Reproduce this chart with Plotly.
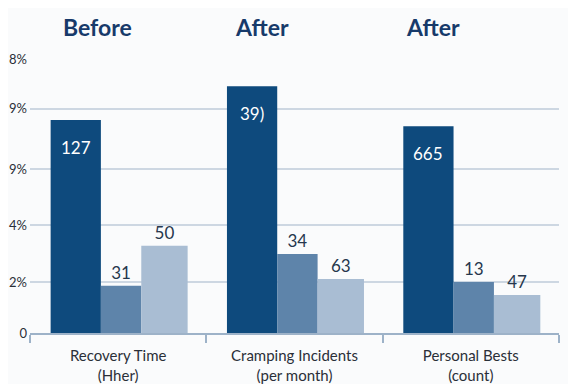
import plotly.graph_objects as go

# ---- data ----
categories = ["Recovery Time<br>(Hher)", "Cramping Incidents<br>(per month)", "Personal Bests<br>(count)"]
group_titles = ["Before", "After", "After"]
series1_heights = [7.77, 9.01, 7.55]
series2_heights = [1.72, 2.88, 1.86]
series3_heights = [3.18, 1.97, 1.39]
series1_labels = ["127", "39)", "665"]
series2_labels = ["31", "34", "13"]
series3_labels = ["50", "63", "47"]
y_tick_vals = [0, 1.86, 3.94, 5.98, 8.18, 10]
y_tick_text = ["0", "2%", "4%", "9%", "9%", "8%"]

# ---- style ----
FONT = "Lato, 'Open Sans', sans-serif"
C1, C2, C3 = "#0e4a7d", "#5e84aa", "#a9bdd3"
bar_specs = [(-0.383, 0.285), (-0.098, 0.229), (0.131, 0.263)]
title_x = [-0.12, 0.816, 1.786]

x = list(range(len(categories)))
fig = go.Figure()

fig.add_trace(go.Bar(x=x, y=series1_heights, marker=dict(color=C1, line=dict(width=0)),
                     offset=bar_specs[0][0], width=bar_specs[0][1], hoverinfo="skip"))
fig.add_trace(go.Bar(x=x, y=series2_heights, marker=dict(color=C2, line=dict(width=0)),
                     offset=bar_specs[1][0], width=bar_specs[1][1],
                     text=series2_labels, textposition="outside",
                     textfont=dict(family=FONT, size=17, color="#26374d"),
                     cliponaxis=False, hoverinfo="skip"))
fig.add_trace(go.Bar(x=x, y=series3_heights, marker=dict(color=C3, line=dict(width=0)),
                     offset=bar_specs[2][0], width=bar_specs[2][1],
                     text=series3_labels, textposition="outside",
                     textfont=dict(family=FONT, size=17, color="#26374d"),
                     cliponaxis=False, hoverinfo="skip"))

annotations = []
for i, (h, lab) in enumerate(zip(series1_heights, series1_labels)):
    annotations.append(dict(x=i + bar_specs[0][0] + bar_specs[0][1] / 2, y=h, xref="x", yref="y",
                            text=lab, showarrow=False, yshift=-27,
                            font=dict(family=FONT, size=17, color="white")))
for i, t in enumerate(group_titles):
    annotations.append(dict(x=title_x[i], y=1, xref="x", yref="paper", text="<b>%s</b>" % t,
                            showarrow=False, yshift=32, yanchor="middle",
                            font=dict(family=FONT, size=23, color="#173a6a")))

fig.update_layout(
    width=576, height=384,
    margin=dict(l=22, r=25, t=51, b=59, autoexpand=False),
    paper_bgcolor="#fafbfc", plot_bgcolor="#fafbfc",
    showlegend=False,
    barmode="overlay",
    annotations=annotations,
    font=dict(family=FONT, color="#2a2f38"),
)
fig.update_xaxes(
    range=[-0.5, 2.5], tickvals=x, ticktext=categories, ticks="", automargin=False,
    tickfont=dict(family=FONT, size=15, color="#2a2f38"), ticklabelstandoff=8,
    showline=True, linecolor="#9db2c8", linewidth=2, showgrid=False, zeroline=False,
    minor=dict(tickvals=[-0.5, 0.5, 1.5, 2.5], ticks="outside", ticklen=8,
               tickcolor="#9db2c8", tickwidth=1.5, showgrid=False),
)
fig.update_yaxes(
    range=[0, 10], tickvals=y_tick_vals, ticktext=y_tick_text, automargin=False,
    tickfont=dict(family=FONT, size=13, color="#2a2f38"),
    showgrid=True, gridcolor="#cdd7e2", gridwidth=1.5, zeroline=False,
    showline=False, ticks="", ticklabelstandoff=2,
)

fig.write_html("out.html")
